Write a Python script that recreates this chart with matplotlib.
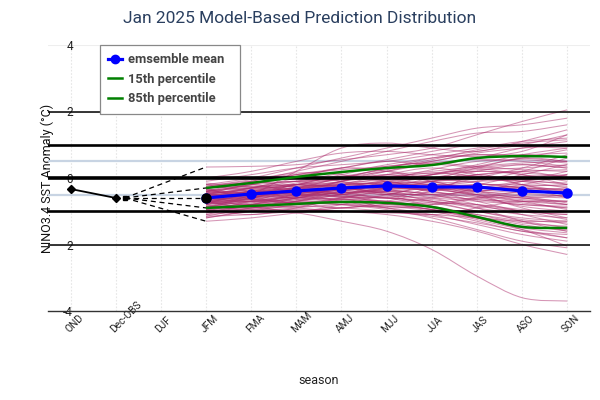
import numpy as np
import matplotlib
matplotlib.use("Agg")
import matplotlib.pyplot as plt
from matplotlib.path import Path
from matplotlib.patches import PathPatch
from matplotlib.lines import Line2D

plt.rcParams['font.family'] = ['Roboto', 'DejaVu Sans']

# categories on the x axis
seasons = ['OND', 'Dec-OBS', 'DJF', 'JFM', 'FMA', 'MAM', 'AMJ', 'MJJ',
           'JJA', 'JAS', 'ASO', 'SON']
fcst_seasons = seasons[3:]

# observed values
obs_seasons = ['OND', 'Dec-OBS']
obs_vals = [-0.33, -0.6]

# dashed fan from last obs to first forecast season (max, 85th, mean, 15th, min)
fan_start = 1.2
fan_end_vals = [0.33, -0.3, -0.6, -0.9, -1.3]

# summary curves
ens_mean = [-0.60, -0.48, -0.39, -0.30, -0.24, -0.27, -0.27, -0.39, -0.45]
p85 = [-0.30, -0.15, 0.03, 0.18, 0.30, 0.39, 0.60, 0.66, 0.63]
p15 = [-0.90, -0.84, -0.78, -0.72, -0.75, -0.87, -1.17, -1.47, -1.50]

# ensemble members, JFM .. SON
members = [
    [0.33, 0.35, 0.40, 0.55, 0.70, 0.90, 1.30, 1.70, 2.05],
    [-0.20, 0.00, 0.30, 0.60, 0.90, 1.20, 1.50, 1.60, 1.80],
    [-0.90, -0.50, 0.20, 0.90, 1.05, 0.90, 0.80, 1.10, 1.45],
    [-0.30, -0.10, 0.20, 0.50, 0.80, 1.10, 1.35, 1.40, 1.60],
    [-0.10, 0.10, 0.30, 0.40, 0.50, 0.70, 0.90, 1.10, 1.20],
    [-0.40, -0.20, 0.05, 0.30, 0.55, 0.80, 1.00, 0.95, 0.90],
    [-0.25, -0.15, 0.10, 0.25, 0.35, 0.50, 0.75, 0.90, 1.00],
    [-0.50, -0.30, -0.10, 0.15, 0.40, 0.60, 0.70, 0.70, 0.75],
    [0.00, 0.20, 0.50, 0.75, 0.80, 0.70, 0.65, 0.80, 1.30],
    [-0.60, -0.40, -0.20, 0.00, 0.30, 0.55, 0.85, 1.05, 1.15],
    [-0.45, -0.35, -0.20, -0.05, 0.10, 0.20, 0.35, 0.45, 0.50],
    [-0.70, -0.50, -0.30, -0.10, 0.05, 0.15, 0.25, 0.30, 0.40],
    [-0.55, -0.40, -0.30, -0.20, -0.10, 0.00, 0.10, 0.20, 0.25],
    [-0.80, -0.60, -0.40, -0.25, -0.10, 0.10, 0.30, 0.40, 0.30],
    [-0.35, -0.30, -0.25, -0.20, -0.15, -0.10, 0.00, 0.05, 0.10],
    [-0.65, -0.55, -0.45, -0.35, -0.20, -0.10, -0.05, -0.10, -0.15],
    [-0.50, -0.45, -0.35, -0.30, -0.30, -0.35, -0.30, -0.25, -0.20],
    [-0.90, -0.75, -0.55, -0.35, -0.20, -0.20, -0.25, -0.30, -0.35],
    [-0.60, -0.50, -0.40, -0.30, -0.25, -0.30, -0.40, -0.50, -0.55],
    [-0.40, -0.30, -0.20, -0.15, -0.20, -0.30, -0.45, -0.60, -0.70],
    [-0.75, -0.60, -0.50, -0.45, -0.40, -0.45, -0.50, -0.55, -0.60],
    [-1.00, -0.85, -0.70, -0.50, -0.35, -0.30, -0.30, -0.35, -0.45],
    [-0.30, -0.20, -0.10, 0.00, 0.05, 0.00, -0.15, -0.30, -0.40],
    [-0.55, -0.50, -0.45, -0.40, -0.45, -0.55, -0.65, -0.80, -0.85],
    [-0.70, -0.65, -0.55, -0.45, -0.35, -0.25, -0.20, -0.20, -0.25],
    [-0.85, -0.70, -0.60, -0.55, -0.50, -0.50, -0.55, -0.70, -0.80],
    [-0.45, -0.40, -0.30, -0.25, -0.20, -0.20, -0.25, -0.35, -0.50],
    [-0.60, -0.45, -0.30, -0.20, -0.15, -0.15, -0.10, -0.05, 0.00],
    [-0.95, -0.80, -0.60, -0.40, -0.30, -0.35, -0.50, -0.70, -0.95],
    [-0.20, -0.15, -0.10, -0.05, 0.00, 0.10, 0.20, 0.15, 0.05],
    [-0.65, -0.60, -0.50, -0.35, -0.15, 0.00, 0.05, -0.05, -0.20],
    [-0.50, -0.35, -0.25, -0.20, -0.25, -0.40, -0.60, -0.75, -0.90],
    [-0.75, -0.70, -0.65, -0.60, -0.55, -0.60, -0.70, -0.80, -0.90],
    [-0.30, -0.25, -0.20, -0.25, -0.35, -0.50, -0.65, -0.70, -0.70],
    [-0.80, -0.65, -0.45, -0.30, -0.25, -0.25, -0.35, -0.45, -0.55],
    [-0.90, -0.85, -0.80, -0.75, -0.80, -0.95, -1.20, -1.45, -1.55],
    [-1.10, -1.00, -0.90, -0.80, -0.85, -1.00, -1.30, -1.60, -1.70],
    [-0.70, -0.70, -0.75, -0.80, -0.90, -1.10, -1.40, -1.70, -1.90],
    [-1.30, -1.20, -1.05, -0.90, -0.85, -0.95, -1.20, -1.50, -1.65],
    [-0.60, -0.65, -0.70, -0.80, -0.95, -1.20, -1.55, -1.90, -2.10],
    [-1.00, -0.95, -0.95, -1.00, -1.10, -1.30, -1.60, -2.00, -2.30],
    [-0.85, -0.80, -0.70, -0.60, -0.60, -0.75, -1.00, -1.25, -1.35],
    [-1.20, -1.00, -0.80, -0.65, -0.60, -0.70, -0.90, -1.10, -1.20],
    [-1.20, -1.00, -1.05, -1.30, -1.60, -2.15, -2.95, -3.60, -3.70],
    [-0.95, -0.90, -0.85, -0.90, -1.00, -1.15, -1.35, -1.60, -1.80],
    [-0.50, -0.55, -0.60, -0.65, -0.70, -0.85, -1.10, -1.35, -1.45],
    [-1.05, -0.90, -0.75, -0.65, -0.70, -0.90, -1.20, -1.55, -2.05],
    [-0.75, -0.80, -0.90, -1.00, -1.05, -1.10, -1.20, -1.30, -1.30],
    [-0.40, -0.45, -0.50, -0.55, -0.60, -0.70, -0.85, -1.00, -1.10],
    [-1.15, -1.10, -1.00, -0.90, -0.80, -0.75, -0.80, -0.95, -1.05],
    [-0.50, -0.20, -0.40, -0.10, 0.20, 0.00, 0.30, 0.60, 0.50],
    [-0.80, -0.40, -0.60, -0.30, -0.50, -0.20, -0.40, -0.10, 0.20],
    [-0.30, -0.60, -0.20, -0.50, -0.10, -0.40, 0.10, -0.20, -0.50],
    [-0.60, -0.30, -0.10, -0.40, -0.60, -0.30, 0.00, 0.30, 0.70],
    [-0.70, -0.90, -0.60, -0.30, -0.50, -0.80, -0.60, -0.40, -0.30],
    [-0.40, -0.10, 0.10, -0.10, -0.30, -0.10, 0.20, 0.40, 0.30],
    [-1.00, -0.70, -0.40, -0.60, -0.90, -1.10, -0.90, -0.70, -0.80],
    [-0.20, -0.40, -0.60, -0.40, -0.20, 0.10, 0.40, 0.70, 0.90],
    [-0.55, -0.30, 0.00, 0.30, 0.20, -0.10, -0.30, -0.20, 0.10],
    [-0.90, -0.60, -0.30, 0.00, 0.20, 0.40, 0.30, 0.10, -0.20],
    [-0.65, -0.85, -1.00, -0.80, -0.50, -0.30, -0.50, -0.90, -1.20],
    [-0.35, -0.55, -0.40, -0.10, 0.20, 0.50, 0.70, 0.60, 0.50],
    [-0.75, -0.50, -0.30, -0.50, -0.70, -0.60, -0.30, -0.10, 0.10],
    [-1.10, -0.80, -0.50, -0.30, -0.40, -0.60, -0.90, -1.30, -1.60],
    [-0.50, -0.70, -0.50, -0.20, 0.10, 0.30, 0.10, -0.20, -0.40],
    [-0.45, -0.20, 0.10, 0.30, 0.50, 0.40, 0.60, 0.90, 1.10],
    [-0.85, -0.95, -0.70, -0.40, -0.20, -0.40, -0.70, -1.00, -1.10],
    [-0.60, -0.40, -0.50, -0.70, -0.90, -0.80, -0.60, -0.60, -0.80],
    [-0.25, -0.05, 0.15, 0.10, -0.10, -0.30, -0.20, 0.10, 0.40],
    [-0.70, -0.55, -0.35, -0.10, 0.10, -0.10, -0.40, -0.60, -0.50],
    [-0.95, -1.10, -0.90, -0.60, -0.40, -0.50, -0.80, -1.10, -1.40],
    [-0.40, -0.50, -0.30, 0.00, 0.30, 0.60, 0.80, 1.00, 1.30],
    [-0.80, -0.55, -0.40, -0.45, -0.30, -0.10, 0.10, 0.20, 0.00],
    [-0.55, -0.75, -0.60, -0.35, -0.45, -0.70, -1.00, -1.20, -1.30],
    [-0.30, -0.10, -0.30, -0.50, -0.30, 0.00, 0.20, 0.10, -0.10],
    [-1.05, -0.80, -0.60, -0.45, -0.50, -0.65, -0.80, -1.00, -1.25],
    [-0.65, -0.40, -0.15, 0.05, 0.25, 0.45, 0.55, 0.50, 0.35],
    [-0.50, -0.60, -0.75, -0.60, -0.40, -0.35, -0.50, -0.65, -0.70],
    [-0.90, -0.70, -0.75, -0.90, -0.70, -0.40, -0.20, -0.30, -0.60],
    [-0.15, -0.30, -0.45, -0.30, -0.05, 0.25, 0.50, 0.55, 0.45],
    [-0.60, -0.80, -0.65, -0.50, -0.60, -0.85, -1.15, -1.40, -1.60],
    [-0.75, -0.45, -0.20, 0.05, 0.00, -0.20, -0.10, 0.20, 0.60],
    [-0.45, -0.65, -0.55, -0.30, -0.20, -0.30, -0.55, -0.85, -1.00],
    [-1.15, -0.90, -0.70, -0.50, -0.30, -0.25, -0.40, -0.55, -0.75],
    [-0.35, -0.45, -0.20, 0.10, 0.35, 0.45, 0.35, 0.25, 0.20],
    [-0.70, -0.90, -0.85, -0.70, -0.75, -0.95, -1.10, -1.30, -1.50],
    [-0.50, -0.30, -0.20, -0.30, -0.45, -0.50, -0.40, -0.30, -0.35],
    [-0.85, -0.60, -0.35, -0.15, -0.05, 0.10, 0.35, 0.60, 0.85],
    [-0.60, -0.70, -0.50, -0.55, -0.75, -0.95, -1.25, -1.55, -1.80],
    [-0.40, -0.25, -0.35, -0.20, 0.00, 0.15, 0.05, -0.10, -0.30],
]

y_ticks = [-4, -2, 0, 2, 4]
y_ticklabels = ['-4', '2', '0', '2', '4']


def smooth_path(xs, ys):
    # catmull-rom as cubic bezier, like a spline line shape
    pts = np.column_stack([xs, ys]).astype(float)
    ext = np.vstack([pts[0], pts, pts[-1]])
    verts = [pts[0]]
    codes = [Path.MOVETO]
    for i in range(len(pts) - 1):
        p0, p1, p2, p3 = ext[i], ext[i + 1], ext[i + 2], ext[i + 3]
        verts += [p1 + (p2 - p0) / 6, p2 - (p3 - p1) / 6, p2]
        codes += [Path.CURVE4] * 3
    return Path(verts, codes)


fig = plt.figure(figsize=(6, 4), dpi=100)
ax = fig.add_axes([0.08, 0.2225, 0.903, 0.665])

x_idx = {s: i for i, s in enumerate(seasons)}
fx = [x_idx[s] for s in fcst_seasons]

# reference lines
for v in [0.5, -0.5]:
    ax.axhline(v, color='#c8d4e3', lw=1.6, zorder=1)
for v, w in [(0, 2.6), (1, 1.9), (-1, 1.9), (2, 1.1), (-2, 1.1)]:
    ax.axhline(v, color='black', lw=w, zorder=3)

for m in members:
    ax.add_patch(PathPatch(smooth_path(fx, m), facecolor='none',
                           edgecolor='#ac2d6c', alpha=0.5, lw=0.75, zorder=2))

ax.add_patch(PathPatch(smooth_path(fx, p15), facecolor='none',
                       edgecolor='green', lw=1.8, zorder=4))
ax.add_patch(PathPatch(smooth_path(fx, p85), facecolor='none',
                       edgecolor='green', lw=1.8, zorder=4))
ax.plot(fx, ens_mean, color='blue', lw=2.3, marker='o', ms=6.5, zorder=5)
ax.plot(fx[0], ens_mean[0], 'o', color='black', ms=6.5, zorder=6)

# observations and fan
ax.plot([x_idx[s] for s in obs_seasons], obs_vals, color='black', lw=1.3,
        marker='D', ms=4.5, zorder=5)
for v in fan_end_vals:
    ax.plot([fan_start, fx[0]], [obs_vals[-1], v], color='black', lw=0.9,
            ls=(0, (4, 3)), zorder=5)
ax.plot([fan_start], [obs_vals[-1]], 's', color='black', ms=2.5, zorder=5)

ax.set_xlim(-0.5, 11.5)
ax.set_ylim(-4, 4)
ax.set_xticks(range(len(seasons)))
ax.set_xticklabels(seasons, rotation=45, ha='left', va='bottom',
                   rotation_mode='anchor', fontsize=7.3, color='#222222')
ax.tick_params(axis='x', length=0, pad=16.5)
ax.set_yticks(y_ticks)
ax.set_yticklabels(y_ticklabels, fontsize=8.5, color='#222222')
ax.tick_params(axis='y', length=0, pad=-18)
ax.grid(axis='x', color='#e6e6e6', ls=(0, (1.5, 1.5)), lw=0.8)
ax.grid(axis='y', color='#eeeeee', lw=0.8)
ax.set_axisbelow(True)
for s in ['top', 'right', 'left']:
    ax.spines[s].set_visible(False)
ax.spines['bottom'].set_color('#333333')
ax.spines['bottom'].set_linewidth(1.0)

ax.set_ylabel('NINO3.4 SST Anomaly (°C)', fontsize=9, color='#111111')
ax.yaxis.set_label_coords(0.011, 0.5)
ax.set_xlabel('season', fontsize=9, color='#222222', labelpad=28.5)
fig.suptitle('Jan 2025 Model-Based Prediction Distribution', x=0.5,
             y=0.972, fontsize=12.5, color='#2a3f5f')

handles = [
    Line2D([], [], color='blue', lw=2.3, marker='o', ms=6),
    Line2D([], [], color='green', lw=1.8),
    Line2D([], [], color='green', lw=1.8),
]
leg = ax.legend(handles, ['emsemble mean', '15th percentile', '85th percentile'],
                loc='upper left', bbox_to_anchor=(0.096, 0.7, 0.259, 0.3),
                mode='expand', borderaxespad=0, fancybox=False, framealpha=1,
                edgecolor='#888888', handlelength=1.05, handletextpad=0.5,
                labelspacing=0.5, borderpad=0.65,
                prop={'weight': 'bold', 'size': 9.3})
leg.get_frame().set_linewidth(0.9)
for t in leg.get_texts():
    t.set_color('#444444')
leg.set_zorder(10)

fig.savefig('out.png', dpi=100)
